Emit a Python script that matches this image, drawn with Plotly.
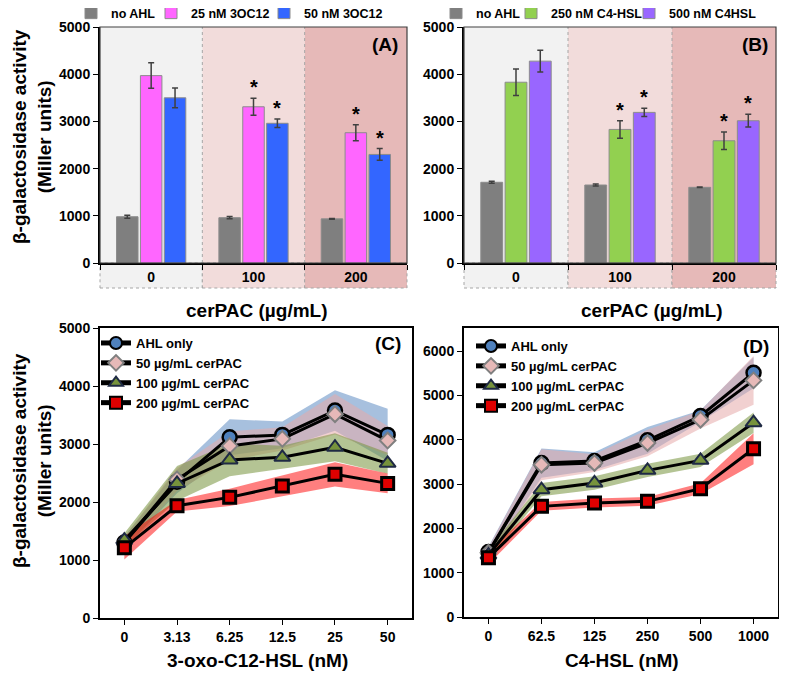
import plotly.graph_objects as go

W, H = 787, 682
OFF = 8  # the page body adds an 8px margin, so layout pixels are shifted back by it

# ---- bar panels (A, B) ----
groups = ['0', '100', '200']

a_names = ['no AHL', '25 nM 3OC12', '50 nM 3OC12']
a_vals = [[980, 960, 935], [3970, 3310, 2760], [3500, 2960, 2300]]
a_errs = [[30, 25, 10], [270, 180, 170], [210, 90, 125]]
a_colors = ['#7F7F7F', '#FF66FF', '#3366FF']

b_names = ['no AHL', '250 nM C4-HSL', '500 nM C4HSL']
b_vals = [[1710, 1652, 1603], [3830, 2830, 2590], [4277, 3191, 3014]]
b_errs = [[20, 20, 5], [280, 185, 185], [230, 85, 135]]
b_colors = ['#7F7F7F', '#92D050', '#9966FF']

# which bars carry a significance star: (series index, group index)
stars = [(1, 1), (2, 1), (1, 2), (2, 2)]

region_colors = ['#F2F2F2', '#F2DCDB', '#E6B9B8']

# ---- line panels (C, D) ----
c_x = ['0', '3.13', '6.25', '12.5', '25', '50']
d_x = ['0', '62.5', '125', '250', '500', '1000']
line_names = ['AHL only', '50 µg/mL cerPAC', '100 µg/mL cerPAC', '200 µg/mL cerPAC']

c_vals = [[1300, 2350, 3116, 3157, 3577, 3157],
          [1300, 2390, 2967, 3088, 3514, 3059],
          [1342, 2321, 2725, 2771, 2944, 2667],
          [1210, 1935, 2080, 2275, 2477, 2321]]
c_errs = [[100, 200, 310, 230, 350, 450],
          [100, 200, 250, 200, 350, 250],
          [120, 300, 280, 200, 240, 180],
          [200, 100, 150, 180, 210, 170]]

d_vals = [[1466, 3474, 3519, 3985, 4534, 5511],
          [1450, 3436, 3474, 3925, 4451, 5338],
          [1400, 2872, 3023, 3308, 3534, 4383],
          [1338, 2496, 2571, 2609, 2895, 3797]]
d_errs = [[120, 330, 200, 300, 130, 350],
          [120, 350, 200, 300, 200, 550],
          [120, 150, 150, 150, 150, 230],
          [150, 100, 100, 100, 120, 350]]

band_colors = ['rgba(79,129,189,0.5)', 'rgba(230,170,170,0.55)',
               'rgba(119,147,60,0.55)', 'rgba(255,0,0,0.5)']
marker_styles = [
    dict(symbol='circle', size=14, color='#4F81BD', line=dict(color='black', width=2.5)),
    dict(symbol='diamond', size=12, color='#E6B9B8', line=dict(color='#7F7F7F', width=2)),
    dict(symbol='triangle-up', size=14, color='#77933C', line=dict(color='#1F2A44', width=2)),
    dict(symbol='square', size=12, color='#E00000', line=dict(color='black', width=3)),
]

FONT = 'Arial, Liberation Sans, sans-serif'


def bold(size, color='black'):
    return dict(family=FONT, size=size, color=color, weight='bold')


def px(x):
    return (x - OFF) / W


def py(y):
    return 1 - (y - OFF) / H


# pixel boxes of each panel: (left, right, top, bottom)
boxes = {
    '': (100, 407, 27, 263),
    '2': (464, 776, 27, 263),
    '3': (100, 412, 328, 618),
    '4': (464, 778, 328, 617),
}

# left pixel where each bar legend entry's text begins
a_leg_x = [117, 197, 310]
b_leg_x = [482, 557, 675]

fig = go.Figure()
legends = {}

# bars: every series gets its own one-entry legend so the row can be placed like the original
n = 0
for sfx, names, vals, errs, colors, leg_x in [
        ('', a_names, a_vals, a_errs, a_colors, a_leg_x),
        ('2', b_names, b_vals, b_errs, b_colors, b_leg_x)]:
    for j in range(3):
        n += 1
        key = 'legend' if n == 1 else 'legend%d' % (n + 2)
        legends[key] = dict(x=px(leg_x[j] - 46), y=py(13), yanchor='middle',
                            xanchor='left', font=bold(12.5), bgcolor='rgba(0,0,0,0)')
        fig.add_trace(go.Bar(
            x=groups, y=vals[j], name=names[j], legend=key,
            xaxis='x' + sfx, yaxis='y' + sfx,
            marker=dict(color=colors[j], line=dict(color='#8C8C8C', width=1)),
            error_y=dict(type='data', array=errs[j], color='#404040', thickness=1.5, width=3),
        ))

# bands then lines
for sfx, xs, vals, errs, leg in [('3', c_x, c_vals, c_errs, 'legend2'),
                                  ('4', d_x, d_vals, d_errs, 'legend3')]:
    for j in range(4):
        upper = [v + e for v, e in zip(vals[j], errs[j])]
        lower = [v - e for v, e in zip(vals[j], errs[j])]
        fig.add_trace(go.Scatter(x=xs, y=upper, mode='lines', line=dict(width=0),
                                 showlegend=False, hoverinfo='skip',
                                 xaxis='x' + sfx, yaxis='y' + sfx))
        fig.add_trace(go.Scatter(x=xs, y=lower, mode='lines', line=dict(width=0),
                                 fill='tonexty', fillcolor=band_colors[j],
                                 showlegend=False, hoverinfo='skip',
                                 xaxis='x' + sfx, yaxis='y' + sfx))
    for j in range(4):
        fig.add_trace(go.Scatter(x=xs, y=vals[j], mode='lines+markers', name=line_names[j],
                                 legend=leg, line=dict(color='black', width=3),
                                 marker=marker_styles[j],
                                 xaxis='x' + sfx, yaxis='y' + sfx))

legends['legend2'] = dict(x=px(96), y=py(328), yanchor='top', xanchor='left',
                          tracegroupgap=0, itemsizing='constant',
                          font=bold(13), bgcolor='rgba(0,0,0,0)')
legends['legend3'] = dict(x=px(471), y=py(331), yanchor='top', xanchor='left',
                          tracegroupgap=0, itemsizing='constant',
                          font=bold(13), bgcolor='rgba(0,0,0,0)')

shapes = []
annotations = []

# bar panel backgrounds, label row and stars
slot = 0.7 / 3
for sfx, vals, errs in [('', a_vals, a_errs), ('2', b_vals, b_errs)]:
    l, r, t, b = boxes[sfx]
    for i, col in enumerate(region_colors):
        shapes.append(dict(type='rect', xref='x%s domain' % sfx, yref='y%s domain' % sfx,
                           x0=i / 3, x1=(i + 1) / 3, y0=0, y1=1, fillcolor=col,
                           line=dict(width=0), layer='below'))
        shapes.append(dict(type='rect', xref='x%s domain' % sfx, yref='paper',
                           x0=i / 3, x1=(i + 1) / 3, y0=py(288), y1=py(b),
                           fillcolor=col, line=dict(color='#A6A6A6', width=1, dash='dot'),
                           layer='below'))
    for i in (1, 2):
        shapes.append(dict(type='line', xref='x%s domain' % sfx, yref='y%s domain' % sfx,
                           x0=i / 3, x1=i / 3, y0=0, y1=1,
                           line=dict(color='#A6A6A6', width=1, dash='dot'), layer='below'))
    shapes.append(dict(type='rect', xref='x%s domain' % sfx, yref='y%s domain' % sfx,
                       x0=0, x1=1, y0=0, y1=1, line=dict(color='#404040', width=1.2)))
    for j, i in stars:
        annotations.append(dict(x=i + (j - 1) * slot, y=vals[j][i] + errs[j][i],
                                xref='x' + sfx, yref='y' + sfx, text='*', showarrow=False,
                                xanchor='center', yanchor='bottom', yshift=-2, font=bold(20)))

layout_axes = {}
for sfx, (l, r, t, b) in boxes.items():
    xa = dict(domain=[px(l), px(r)], anchor='y' + sfx, type='category',
              showline=True, linecolor='black', linewidth=2, ticks='outside',
              ticklen=5, tickcolor='black', tickfont=bold(14), showgrid=False,
              zeroline=False)
    ya = dict(domain=[py(b), py(t)], anchor='x' + sfx,
              showline=True, linecolor='black', linewidth=2, ticks='outside',
              ticklen=5, tickcolor='black', tickfont=bold(14), showgrid=False,
              zeroline=False, dtick=1000)
    if sfx in ('', '2'):
        xa['tickson'] = 'boundaries'
        ya['range'] = [0, 5000]
    else:
        xa['mirror'] = True
        ya['mirror'] = True
        ya['range'] = [0, 5000] if sfx == '3' else [0, 6520]
    layout_axes['xaxis' + sfx] = xa
    layout_axes['yaxis' + sfx] = ya

# titles and panel labels
ytitle = 'β-galactosidase activity<br>(Miller units)'
labels = [(ytitle, 32, 137, 19, -90), (ytitle, 32, 461, 19, -90),
          ('cerPAC (µg/mL)', 257, 310, 19, 0), ('cerPAC (µg/mL)', 652, 310, 19, 0),
          ('3-oxo-C12-HSL (nM)', 257, 660, 19, 0), ('C4-HSL (nM)', 622, 660, 19, 0),
          ('(A)', 385, 45, 19, 0), ('(B)', 755, 45, 19, 0),
          ('(C)', 388, 343, 19, 0), ('(D)', 756, 346, 19, 0)]
for txt, xc, yc, size, angle in labels:
    annotations.append(dict(x=px(xc), y=py(yc), xref='paper', yref='paper',
                            xanchor='center', yanchor='middle', text=txt,
                            textangle=angle, showarrow=False, font=bold(size)))

fig.update_layout(
    width=W, height=H,
    margin=dict(l=0, r=0, t=0, b=0, autoexpand=False),
    paper_bgcolor='white', plot_bgcolor='white',
    barmode='group', bargap=0.3, bargroupgap=0.1,
    font=dict(family=FONT),
    shapes=shapes, annotations=annotations,
    showlegend=True,
    **legends,
    **layout_axes,
)

fig.write_html("out.html")
